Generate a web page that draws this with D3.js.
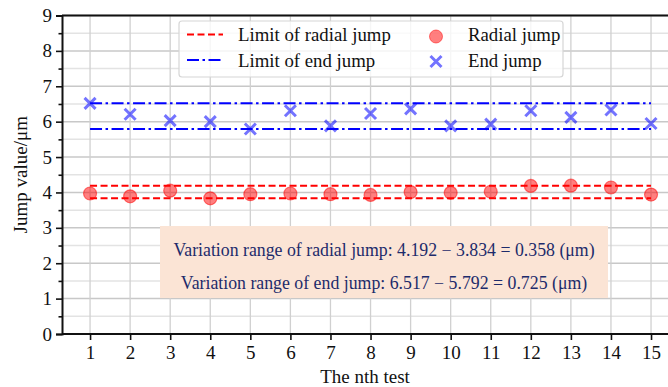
<!DOCTYPE html>
<html>
<head>
<meta charset="utf-8">
<script src="https://cdn.jsdelivr.net/npm/d3@7"></script>
<style>
  body { margin: 0; background: #fff; }
  svg text { font-family: "Liberation Serif", "DejaVu Serif", serif; }
</style>
</head>
<body>
<svg width="668" height="387"></svg>
<script>
/* data */
var tests = d3.range(1, 16);
var radialJump = [3.97, 3.89, 4.05, 3.834, 3.95, 3.97, 3.95, 3.93, 4.01, 3.99, 4.02, 4.185, 4.192, 4.14, 3.94];
var endJump = [6.517, 6.21, 6.03, 6.0, 5.792, 6.31, 5.88, 6.23, 6.36, 5.88, 5.93, 6.31, 6.12, 6.33, 5.95];
var radialLimits = [4.192, 3.834];
var endLimits = [6.517, 5.792];
var yTicks = d3.range(0, 10);
var notes = [
    "Variation range of radial jump: 4.192 \u2212 3.834 = 0.358 (\u03bcm)",
    "Variation range of end jump: 6.517 \u2212 5.792 = 0.725 (\u03bcm)"
];

var svg = d3.select("svg");
var width = 668, height = 387;
var margin = { left: 62, top: 15.5, bottom: 334 };

var x = d3.scaleLinear().domain([0.3, 15.7]).range([margin.left, margin.left + 15.4 * 40.07]);
var y = d3.scaleLinear().domain([0, 9]).range([margin.bottom, margin.top]);

var red = "#ff0000", blue = "#0000ff";

// grid - minor first
var grid = svg.append("g");
grid.selectAll(".ymin").data(d3.range(0.5, 9, 1)).enter().append("line")
    .attr("x1", margin.left).attr("x2", width)
    .attr("y1", d => y(d)).attr("y2", d => y(d))
    .attr("stroke", "#e3e3e3").attr("stroke-width", 1.5);
grid.selectAll(".ymaj").data(yTicks).enter().append("line")
    .attr("x1", margin.left).attr("x2", width)
    .attr("y1", d => y(d)).attr("y2", d => y(d))
    .attr("stroke", "#c8c8c8").attr("stroke-width", 1.5);
grid.selectAll(".xmaj").data(tests).enter().append("line")
    .attr("x1", d => x(d)).attr("x2", d => x(d))
    .attr("y1", margin.top).attr("y2", margin.bottom)
    .attr("stroke", "#d0d0d0").attr("stroke-width", 1.3);

// limit lines
var limitLine = d3.line().x(d => x(d[0])).y(d => y(d[1]));
radialLimits.forEach(v => {
    svg.append("path").datum([[1, v], [15, v]]).attr("d", limitLine)
        .attr("stroke", red).attr("stroke-width", 2).attr("fill", "none")
        .attr("stroke-dasharray", "7,3.5");
});
endLimits.forEach(v => {
    svg.append("path").datum([[1, v], [15, v]]).attr("d", limitLine)
        .attr("stroke", blue).attr("stroke-width", 2).attr("fill", "none")
        .attr("stroke-dasharray", "12,3.5,2.5,3.5");
});

// markers
svg.append("g").selectAll("circle").data(radialJump).enter().append("circle")
    .attr("cx", (d, i) => x(tests[i])).attr("cy", d => y(d)).attr("r", 6.5)
    .attr("fill", red).attr("fill-opacity", 0.5)
    .attr("stroke", red).attr("stroke-opacity", 0.5).attr("stroke-width", 1.2);

var cross = (g, s) => g.append("path")
    .attr("d", `M${-s},${-s}L${s},${s}M${-s},${s}L${s},${-s}`)
    .attr("stroke", blue).attr("stroke-opacity", 0.55).attr("stroke-width", 3).attr("fill", "none");

svg.append("g").selectAll("g").data(endJump).enter().append("g")
    .attr("transform", (d, i) => `translate(${x(tests[i])},${y(d)})`)
    .each(function () { cross(d3.select(this), 5.5); });

// note box
var box = svg.append("g");
box.append("rect").attr("x", 160).attr("y", 226).attr("width", 448).attr("height", 72)
    .attr("fill", "#fbe4d5");
box.selectAll("text").data(notes).enter().append("text")
    .attr("x", 384).attr("y", (d, i) => 256 + i * 33)
    .attr("text-anchor", "middle").attr("font-size", 17.8).attr("fill", "#1d2b6b")
    .text(d => d);

// axes
var yAxis = svg.append("g").attr("transform", `translate(${margin.left},0)`)
    .call(d3.axisLeft(y).tickValues(yTicks).tickFormat(d3.format("d")).tickSize(6).tickPadding(4));
svg.append("g").attr("transform", `translate(${margin.left},0)`)
    .call(d3.axisLeft(y).tickValues(d3.range(0.5, 9, 1)).tickFormat("").tickSize(3.5))
    .select(".domain").remove();
var xAxis = svg.append("g").attr("transform", `translate(0,${margin.bottom})`)
    .call(d3.axisBottom(x).tickValues(tests).tickFormat(d3.format("d")).tickSize(6).tickPadding(6));
[yAxis, xAxis].forEach(a => {
    a.selectAll("text").attr("font-size", 19).attr("fill", "#111");
    a.select(".domain").attr("stroke-width", 2).attr("stroke", "#111");
});
svg.selectAll(".tick line").attr("stroke", "#111").attr("stroke-width", 1.6);
xAxis.select(".domain").attr("d", `M${margin.left},0H${width}`);
svg.append("line").attr("x1", margin.left).attr("x2", width)
    .attr("y1", margin.top).attr("y2", margin.top).attr("stroke", "#111").attr("stroke-width", 2);

// axis titles
svg.append("text").attr("x", 365).attr("y", 383).attr("text-anchor", "middle")
    .attr("font-size", 19).attr("fill", "#111").text("The nth test");
svg.append("text").attr("transform", `translate(27,${(margin.top + margin.bottom) / 2}) rotate(-90)`)
    .attr("text-anchor", "middle").attr("font-size", 19).attr("fill", "#111").text("Jump value/\u03bcm");

// legend
var lg = svg.append("g");
lg.append("rect").attr("x", 179).attr("y", 21).attr("width", 384).attr("height", 56).attr("rx", 3)
    .attr("fill", "#fff").attr("fill-opacity", 0.8).attr("stroke", "#d6d6d6").attr("stroke-width", 1.2);
lg.append("line").attr("x1", 187).attr("x2", 223).attr("y1", 34.5).attr("y2", 34.5)
    .attr("stroke", red).attr("stroke-width", 2).attr("stroke-dasharray", "7,3.5");
lg.append("line").attr("x1", 187).attr("x2", 223).attr("y1", 60).attr("y2", 60)
    .attr("stroke", blue).attr("stroke-width", 2).attr("stroke-dasharray", "12,3.5,2.5,3.5");
lg.append("circle").attr("cx", 436).attr("cy", 36.5).attr("r", 6.5)
    .attr("fill", red).attr("fill-opacity", 0.5).attr("stroke", red).attr("stroke-opacity", 0.5);
cross(lg.append("g").attr("transform", "translate(436,61.5)"), 5.5);
var legendText = [["Limit of radial jump", 238, 41], ["Limit of end jump", 238, 67],
                  ["Radial jump", 468, 41], ["End jump", 468, 67]];
lg.selectAll("text").data(legendText).enter().append("text")
    .attr("x", d => d[1]).attr("y", d => d[2]).attr("font-size", 18.8).attr("fill", "#111")
    .text(d => d[0]);
</script>
</body>
</html>
